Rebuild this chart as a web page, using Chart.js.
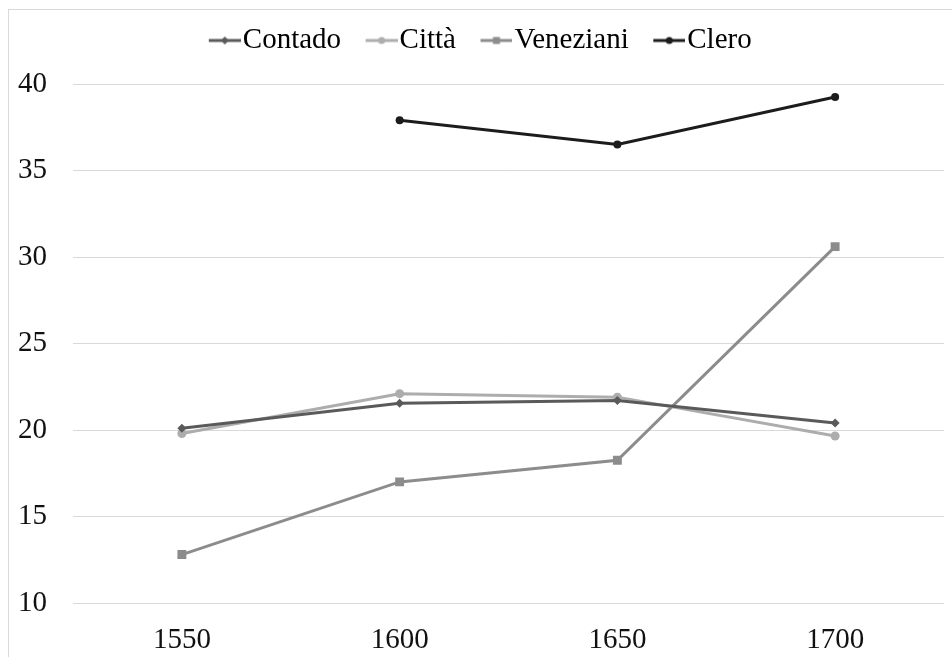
<!DOCTYPE html>
<html>
<head>
<meta charset="utf-8">
<script src="https://cdn.jsdelivr.net/npm/chart.js@4"></script>
<style>
  html, body { margin: 0; padding: 0; background: #fff; }
  #wrap { position: relative; width: 952px; height: 657px; }
  #frame { position: absolute; left: 8px; top: 9px; width: 960px; height: 700px;
           border-left: 1px solid #d9d9d9; border-top: 1px solid #d9d9d9; }
  canvas { position: absolute; left: 0; top: 0; }
</style>
</head>
<body>
<div id="wrap">
  <div id="frame"></div>
  <canvas id="chart" width="952" height="657"></canvas>
</div>
<script>
const years = ["1550", "1600", "1650", "1700"];
const contado = [20.1, 21.55, 21.7, 20.4];
const citta = [19.8, 22.1, 21.9, 19.65];
const veneziani = [12.8, 17.0, 18.25, 30.6];
const clero = [null, 37.9, 36.5, 39.25];
const yTicks = [10, 15, 20, 25, 30, 35, 40];

const FONT = "'Liberation Serif', 'Times New Roman', serif";

// legend icon: a short line with the marker in the middle (blank space on the left)
function legendIcon(color, shape) {
    const c = document.createElement("canvas");
    c.width = 43;
    c.height = 14;
    const g = c.getContext("2d");
    g.strokeStyle = color;
    g.fillStyle = color;
    g.lineWidth = 3;
    g.beginPath();
    g.moveTo(11, 7);
    g.lineTo(43, 7);
    g.stroke();
    const cx = 27, cy = 7;
    g.beginPath();
    if (shape === "rect") {
        g.rect(cx - 3.5, cy - 3.5, 7, 7);
    } else if (shape === "rectRot") {
        g.moveTo(cx, cy - 4); g.lineTo(cx + 4, cy); g.lineTo(cx, cy + 4); g.lineTo(cx - 4, cy);
        g.closePath();
    } else {
        g.arc(cx, cy, 3.5, 0, Math.PI * 2);
    }
    g.fill();
    return c;
}

function series(label, data, color, shape, radius) {
    return {
        label: label,
        data: data,
        borderColor: color,
        backgroundColor: color,
        borderWidth: 3,
        pointStyle: shape,
        pointRadius: radius,
        pointHoverRadius: radius,
        pointBorderWidth: 0,
        tension: 0,
        icon: legendIcon(color, shape)
    };
}

// fixed legend height so the plot starts where the reference does
const legendHeight = {
    id: "legendHeight",
    beforeInit(chart) {
        const fit = chart.legend.fit;
        chart.legend.fit = function() {
            fit.call(this);
            this.height = 84;
        };
    }
};

function draw() {
    Chart.defaults.font.family = FONT;
    new Chart(document.getElementById("chart").getContext("2d"), {
        type: "line",
        data: {
            labels: years,
            datasets: [
                series("Contado", contado, "#5a5a5a", "rectRot", 4.5),
                series("Città", citta, "#adadad", "circle", 4.5),
                series("Veneziani", veneziani, "#8c8c8c", "rect", 6.3),
                series("Clero", clero, "#1c1c1c", "circle", 4)
            ]
        },
        options: {
            responsive: false,
            animation: false,
            layout: { padding: { left: 18, right: 8, top: 0, bottom: 0 } },
            plugins: {
                tooltip: { enabled: false },
                legend: {
                    position: "top",
                    labels: {
                        font: { family: FONT, size: 29 },
                        color: "#111",
                        usePointStyle: true,
                        pointStyleWidth: 18,
                        padding: 26,
                        generateLabels: chart => chart.data.datasets.map((ds, i) => ({
                            text: ds.label,
                            pointStyle: ds.icon,
                            fillStyle: ds.borderColor,
                            strokeStyle: ds.borderColor,
                            lineWidth: 0,
                            datasetIndex: i
                        }))
                    }
                }
            },
            scales: {
                x: {
                    offset: true,
                    grid: { display: false, drawTicks: false },
                    border: { display: false },
                    ticks: { font: { family: FONT, size: 29 }, color: "#111", padding: 20 },
                    afterFit: axis => { axis.height = 54; }
                },
                y: {
                    min: 10,
                    max: 40,
                    afterBuildTicks: axis => { axis.ticks = yTicks.map(v => ({ value: v })); },
                    grid: { color: "#d9d9d9", lineWidth: 1, drawTicks: false },
                    border: { display: false },
                    ticks: { font: { family: FONT, size: 29 }, color: "#111", padding: 26 },
                    afterFit: axis => { axis.width = 55; }
                }
            }
        },
        plugins: [legendHeight]
    });
}

document.fonts.load("29px 'Liberation Serif'").then(draw, draw);
</script>
</body>
</html>
